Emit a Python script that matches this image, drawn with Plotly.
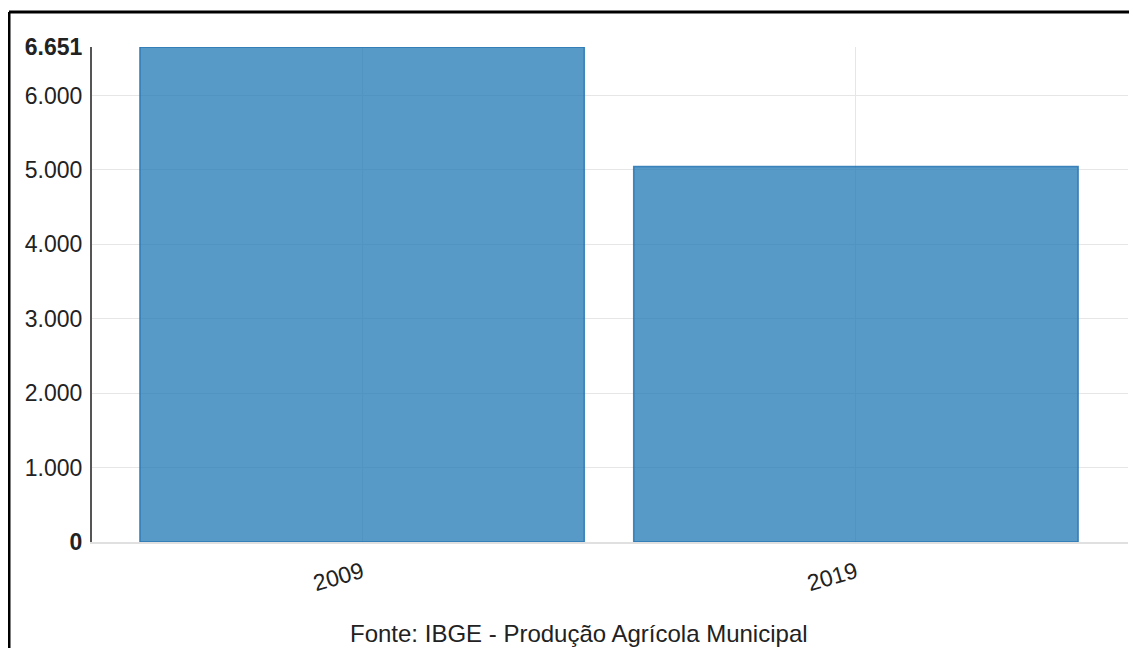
import plotly.graph_objects as go

categories = ["2009", "2019"]
values = [6651, 5045]
tick_vals = [0, 1000, 2000, 3000, 4000, 5000, 6000, 6651]
tick_text = ["<b>0</b>", "1.000", "2.000", "3.000", "4.000", "5.000", "6.000", "<b>6.651</b>"]

OFF = 8  # default page body margin
W, H = 1137 - OFF, 648 - OFF
L, T = 92 - OFF, 47 - OFF
R = W - (1128 - OFF)
B = H - (542 - OFF)
pw, ph = W - L - R, H - T - B

def px_x(px):
    return (px - OFF - L) / pw

def px_y(py):
    return (H - B - (py - OFF)) / ph

fig = go.Figure()
fig.add_trace(go.Bar(
    x=[0, 1], y=values,
    width=0.9,
    marker=dict(color="rgba(31,119,180,0.75)", line=dict(color="rgba(31,110,175,0.8)", width=1.5)),
    hoverinfo="skip",
))

fig.update_layout(
    width=W, height=H,
    margin=dict(l=L, r=R, t=T, b=B),
    paper_bgcolor="white", plot_bgcolor="white",
    showlegend=False,
    font=dict(family="Liberation Sans, Arial, sans-serif", size=20, color="#222"),
    xaxis=dict(
        range=[-0.547, 1.551],
        tickvals=[0, 1], ticktext=categories,
        tickangle=-16,
        showgrid=True, gridcolor="#e6e6e6", gridwidth=1,
        showline=True, linecolor="#e0e0e0", linewidth=2,
        zeroline=False, ticks="", ticklabelstandoff=6,
        tickfont=dict(size=23, color="#222"),
    ),
    yaxis=dict(
        range=[0, 6651],
        tickvals=tick_vals, ticktext=tick_text,
        showgrid=True, gridcolor="#e6e6e6", gridwidth=1,
        showline=True, linecolor="#555", linewidth=2,
        zeroline=False, ticks="", ticklabelstandoff=3,
        tickfont=dict(size=23, color="#222"),
    ),
    shapes=[
        dict(type="line", xref="paper", yref="paper",
             x0=px_x(9), x1=px_x(1140), y0=px_y(12), y1=px_y(12),
             line=dict(color="black", width=3)),
        dict(type="line", xref="paper", yref="paper",
             x0=px_x(9), x1=px_x(9), y0=px_y(12), y1=px_y(650),
             line=dict(color="black", width=3)),
    ],
    annotations=[
        dict(text="Fonte: IBGE - Produção Agrícola Municipal",
             xref="paper", yref="paper", x=px_x(579), y=px_y(633),
             xanchor="center", yanchor="middle", showarrow=False,
             font=dict(size=24, color="#222")),
    ],
)

fig.write_html("out.html")
